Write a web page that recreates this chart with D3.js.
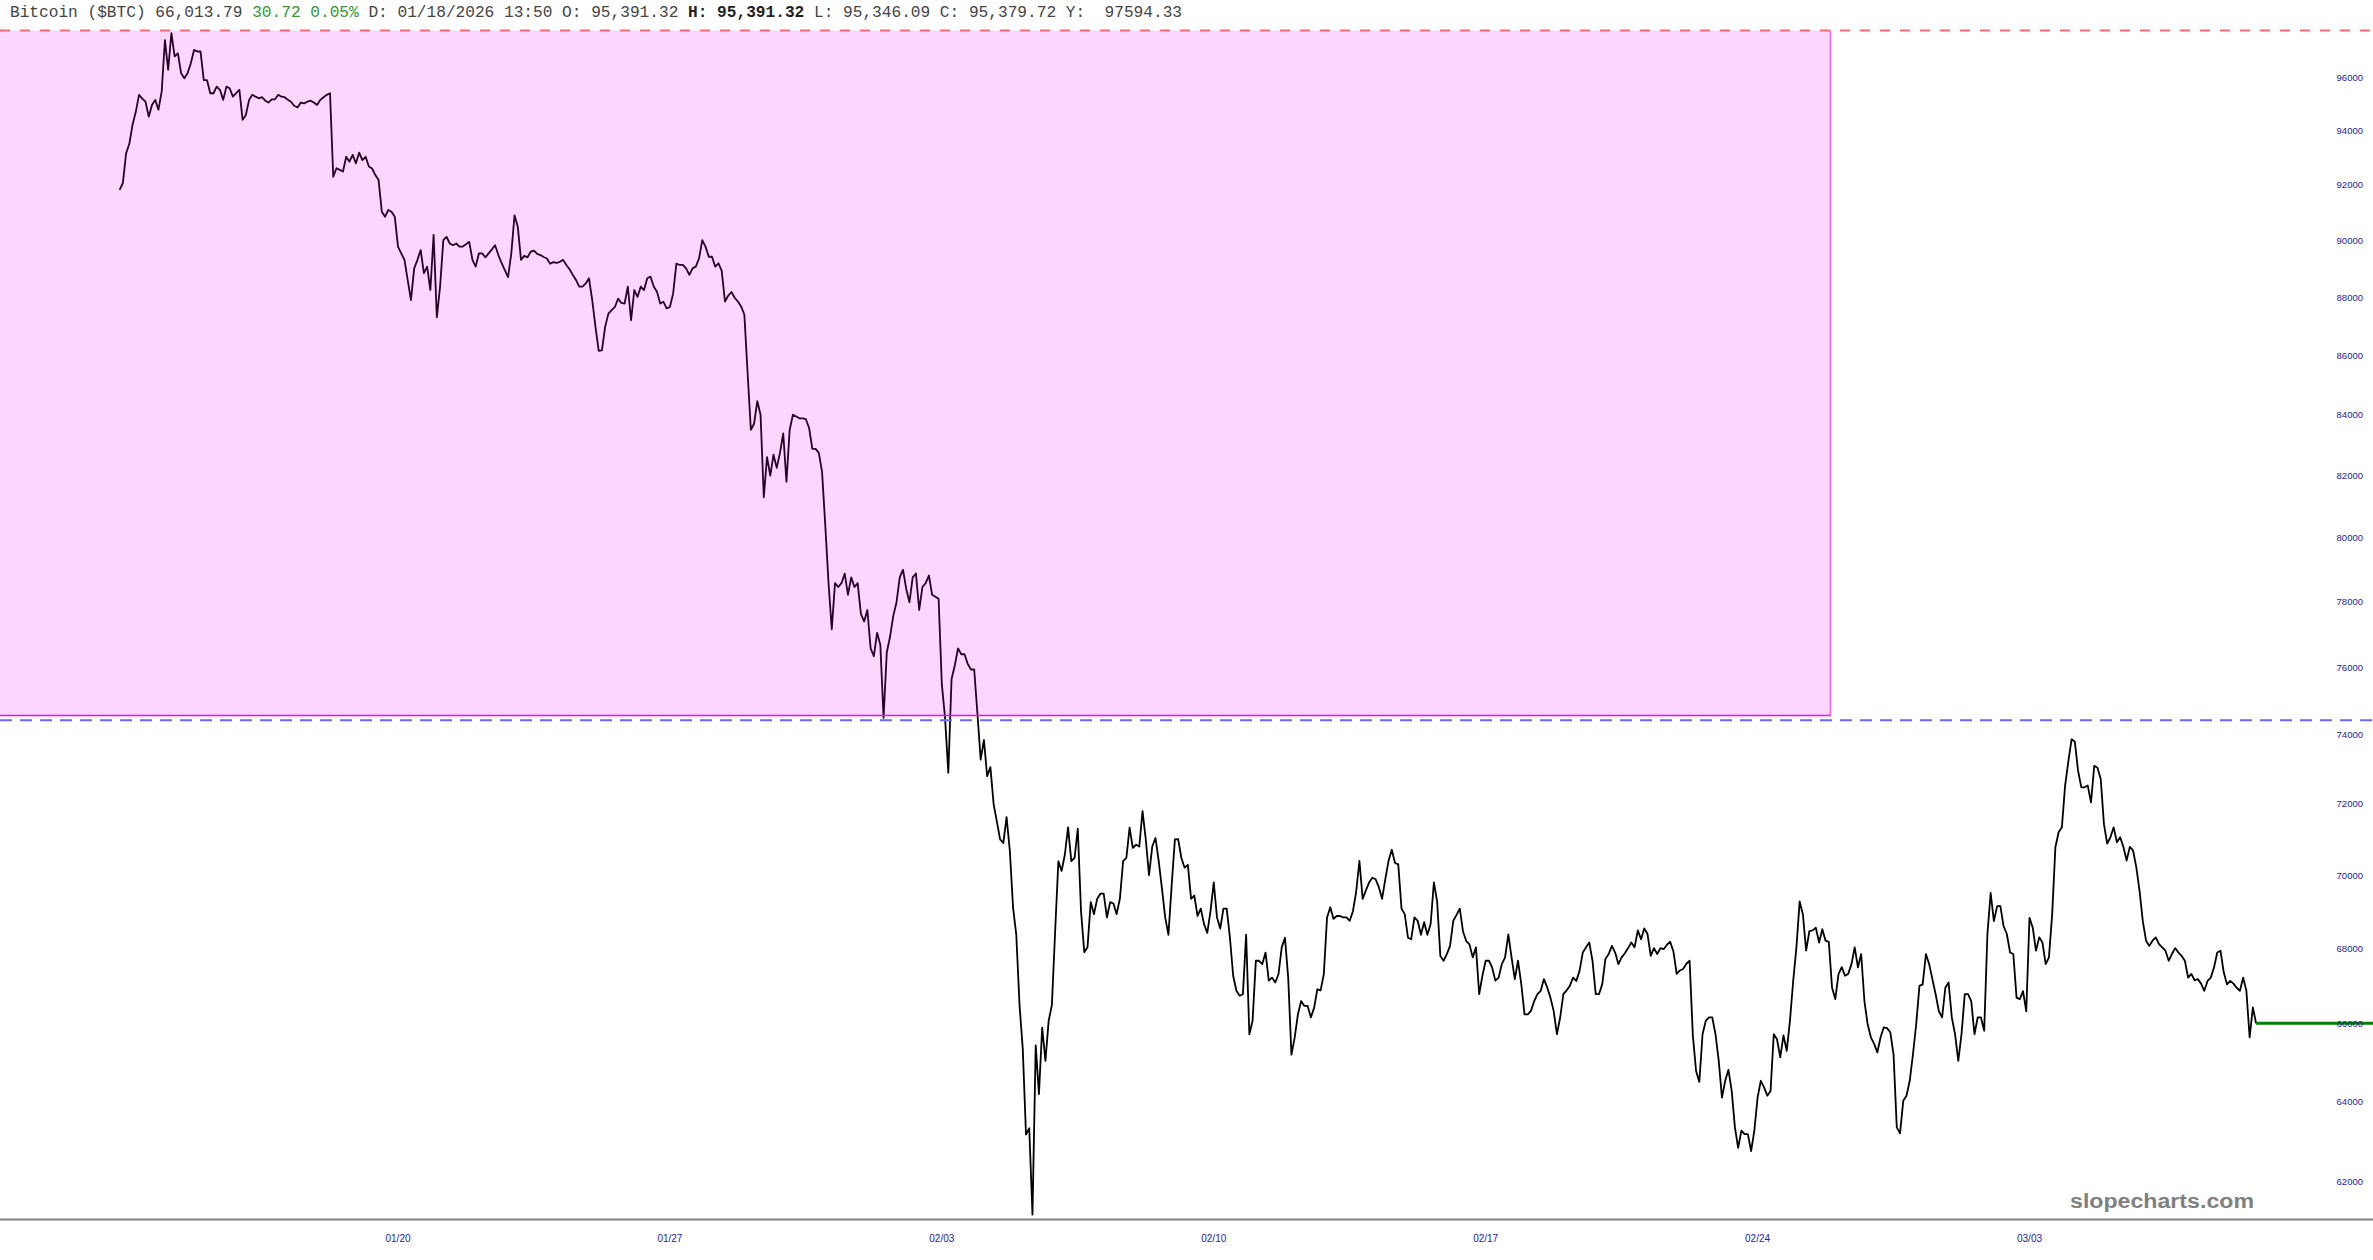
<!DOCTYPE html>
<html lang="en">
<head>
<meta charset="utf-8">
<style>
  body { margin: 0; background: #fff; }
  svg { display: block; }
  .hdr { font-family: "Liberation Mono", "DejaVu Sans Mono", monospace; font-size: 16.15px; fill: #444; white-space: pre; }
  .ylab { font-family: "Liberation Sans", Arial, sans-serif; font-size: 9.5px; fill: #23239a; }
  .xlab { font-family: "Liberation Sans", Arial, sans-serif; font-size: 10px; fill: #23239a; }
  .wm { font-family: "Liberation Sans", Arial, sans-serif; font-size: 20px; font-weight: bold; fill: #808080; }
</style>
</head>
<body>
<svg width="2373" height="1260"></svg>

<script src="https://d3js.org/d3.v7.min.js"></script>
<script>
// 2-hour closes
var startTime = "2026-01-12T20:00:00Z", stepHours = 2;
var closes = [
  91820, 92060, 93150, 93510, 94220, 94700, 95340, 95200, 95080, 94520,
  94960, 95150, 94780, 95460, 97430, 96290, 97700, 96800, 96920, 96160,
  95970, 96160, 96540, 97050, 96990, 96990, 95900, 95900, 95400, 95400,
  95650, 95530, 95150, 95650, 95590, 95270, 95400, 95530, 94400, 94580,
  95150, 95340, 95270, 95210, 95250, 95120, 95050, 95170, 95170, 95340,
  95270, 95250, 95150, 95070, 94920, 94870, 95050, 95020, 95080, 95120,
  95050, 94960, 95150, 95250, 95340, 95400, 92300, 92610, 92550, 92490,
  93030, 92850, 93100, 92790, 93180, 92910, 93030, 92670, 92600, 92360,
  92180, 91030, 90850, 91090, 91030, 90850, 89780, 89540, 89310, 88600,
  87900, 89010, 89310, 89660, 88840, 89070, 88250, 90200, 87300, 88370,
  90010, 90130, 89890, 89830, 89890, 89780, 89780, 89860, 89950, 89310,
  89070, 89540, 89540, 89400, 89540, 89680, 89830, 89480, 89200, 88950,
  88700, 89540, 90900, 90490, 89310, 89450, 89400, 89600, 89640, 89520,
  89480, 89410, 89360, 89170, 89230, 89200, 89240, 89310, 89130, 88980,
  88780, 88600, 88370, 88370, 88480, 88660, 87900, 86980, 86150, 86170,
  86980, 87430, 87550, 87660, 87950, 87800, 87780, 88370, 87200, 88250,
  88010, 88370, 88250, 88660, 88720, 88370, 88190, 87780, 87840, 87610,
  87660, 88130, 89180, 89130, 89130, 89010, 88780, 89010, 89070, 89360,
  90010, 89780, 89420, 89420, 89070, 89190, 88920, 87850, 88050, 88180,
  87980, 87850, 87680, 87390, 85400, 83500, 83700, 84450, 84000, 81300,
  82600, 82000, 82680, 82250, 82740, 83380, 81800, 83500, 84000, 83940,
  83880, 83880, 83850, 83560, 82870, 82870, 82740, 82120, 80390, 78580,
  77160, 78580, 78460, 78580, 78880, 78220, 78760, 78460, 78580, 77630,
  77400, 77750, 76580, 76340, 77050, 76690, 74500, 76460, 76930, 77570,
  77990, 78760, 79000, 78400, 77990, 78760, 78880, 77750, 78460, 78580,
  78820, 78220, 78160, 78100, 75500, 74500, 72900, 75650, 76060, 76580,
  76400, 76400, 76110, 75940, 75940, 74620, 73280, 73850, 72800, 73060,
  72000, 71500, 71000, 70900, 71630, 70690, 69110, 68370, 66500, 65350,
  63170, 63330, 61200, 65440, 64190, 65900, 65040, 66080, 66500, 68450,
  70390, 70120, 70570, 71340, 70390, 70480, 71300, 69010, 67900, 68030,
  69260, 68930, 69350, 69490, 69490, 68840, 69260, 69220, 68930, 69350,
  70390, 70480, 71330, 70760, 70850, 70800, 71800, 71000, 70000, 70800,
  71040, 70390, 69630, 68840, 68370, 69720, 71000, 71010, 70480, 70210,
  70290, 69350, 69440, 68880, 69080, 68660, 68420, 69010, 69800, 68840,
  68540, 69080, 69080, 68290, 67270, 66870, 66740, 66780, 68370, 65730,
  66080, 67670, 67670, 67580, 67890, 67140, 67220, 67090, 67310, 68030,
  68290, 67220, 65200, 65640, 66250, 66600, 66470, 66470, 66170, 66420,
  66910, 66880, 67310, 68840, 69120, 68800, 68880, 68880, 68840, 68840,
  68750, 69010, 69550, 70400, 69350, 69580, 69800, 69930, 69890, 69670,
  69350, 69890, 70400, 70710, 70340, 70300, 69080, 68930, 68290, 68250,
  68840, 68750, 68370, 68710, 68370, 68660, 69800, 69280, 67800, 67670,
  67850, 68070, 68750, 68910, 69080, 68460, 68200, 68110, 67760, 68030,
  66780, 67270, 67670, 67670, 67490, 67140, 67220, 67580, 67760, 68380,
  67760, 67180, 67670, 67050, 66250, 66250, 66340, 66600, 66780, 66870,
  67180, 66960, 66690, 66340, 65730, 66160, 66780, 66880, 67000, 67220,
  67130, 67400, 67890, 68030, 68160, 67670, 66780, 66780, 67040, 67720,
  67850, 68070, 67890, 67580, 67760, 67870, 68010, 68160, 68030, 68490,
  68250, 68540, 68390, 67800, 68010, 67850, 68010, 67980, 68100, 68180,
  67920, 67320, 67410, 67450, 67590, 67670, 65700, 64780, 64500, 65730,
  66080, 66170, 66170, 65730, 65040, 64100, 64530, 64810, 64270, 63350,
  62840, 63270, 63180, 63180, 62760, 63270, 64100, 64530, 64360, 64150,
  64270, 65730, 65600, 65130, 65700, 65300, 66080, 67130, 68030, 69280,
  68920, 67940, 68470, 68490, 68560, 68160, 68520, 68210, 68180, 66960,
  66650, 67310, 67500, 67270, 67320, 67580, 68030, 67490, 67850, 66600,
  65990, 65650, 65480, 65260, 65650, 65910, 65890, 65780, 65210, 63350,
  63200, 64020, 64150, 64530, 65210, 65990, 67000, 67040, 67850, 67580,
  67180, 66780, 66330, 66170, 66950, 67090, 66170, 65730, 65040, 65730,
  66780, 66780, 66600, 65730, 66170, 66170, 65820, 68390, 69510, 68740,
  69150, 69150, 68600, 68390, 67890, 67850, 66690, 66650, 66860, 66330,
  68830, 68560, 67940, 68300, 68160, 67580, 67760, 68920, 70780, 71200,
  71340, 72530, 73230, 73870, 73800, 72960, 72480, 72480, 72530, 72050,
  73100, 73040, 72720, 71430, 70880, 71060, 71340, 70920, 71060, 70790,
  70410, 70790, 70690, 70220, 69570, 68740, 68210, 68070, 68210, 68300,
  68120, 68030, 67940, 67670, 67850, 68010, 67890, 67800, 67670, 67220,
  67320, 67150, 67180, 67060, 66870, 67130, 67220, 67490, 67890, 67940,
  67360, 67040, 67130, 67060, 66950, 66870, 67220, 66870, 65650, 66430,
  66013.79
];
var lastPrice = 66013.79;

var yTicks = [62000, 64000, 66000, 68000, 70000, 72000, 74000, 76000, 78000,
              80000, 82000, 84000, 86000, 88000, 90000, 92000, 94000, 96000];
var xTickDates = ["2026-01-20", "2026-01-27", "2026-02-03", "2026-02-10",
                  "2026-02-17", "2026-02-24", "2026-03-03"];
var xTickLabels = ["01/20", "01/27", "02/03", "02/10", "02/17", "02/24", "03/03"];

var highLevel = 97800, lowLevel = 74430;       // dashed red / blue lines
var boxHigh = 97800, boxLow = 74570, boxEnd = "2026-02-25T21:00:00Z";

var header = [
  {t: "Bitcoin ($BTC) 66,013.79 ", c: "#444"},
  {t: "30.72 0.05%", c: "#2e9a2e"},
  {t: " D: 01/18/2026 13:50 O: 95,391.32 ", c: "#444"},
  {t: "H: 95,391.32", c: "#222", b: true},
  {t: " L: 95,346.09 C: 95,379.72 Y:  97594.33", c: "#444"}
];

var svg = d3.select("svg"),
    width = +svg.attr("width"),
    height = +svg.attr("height");

var x = d3.scaleUtc()
    .domain([new Date("2026-01-20T00:00:00Z"), new Date("2026-03-03T00:00:00Z")])
    .range([398, 2029.5]);
var y = d3.scaleLog()
    .domain([62000, 96000])
    .range([1181.8, 77.4]);

var t0 = new Date(startTime).getTime();
var data = closes.map(function (v, i) {
  return {t: new Date(t0 + i * stepHours * 3600e3), v: v};
});

// price line
var line = d3.line().x(function (d) { return x(d.t); }).y(function (d) { return y(d.v); });
svg.append("path")
    .datum(data)
    .attr("d", line)
    .attr("fill", "none")
    .attr("stroke", "#000")
    .attr("stroke-width", 1.8)
    .attr("stroke-linejoin", "round");

// pink range box laid over the line
var bx = x(new Date(boxEnd)), by0 = y(boxHigh), by1 = y(boxLow);
svg.append("rect")
    .attr("x", 0).attr("y", by0)
    .attr("width", bx).attr("height", by1 - by0)
    .attr("fill", "rgba(240,0,240,0.16)");
svg.append("line")
    .attr("x1", bx).attr("x2", bx).attr("y1", by0).attr("y2", by1)
    .attr("stroke", "#f064f0").attr("stroke-width", 1.5);
svg.append("line")
    .attr("x1", 0).attr("x2", bx).attr("y1", by1).attr("y2", by1)
    .attr("stroke", "#ff00ff").attr("stroke-width", 1.5);

// dashed levels
svg.append("line")
    .attr("x1", 0).attr("x2", width).attr("y1", y(highLevel)).attr("y2", y(highLevel))
    .attr("stroke", "#ff6a6a").attr("stroke-width", 2).attr("stroke-dasharray", "10,10");
svg.append("line")
    .attr("x1", 0).attr("x2", width).attr("y1", y(lowLevel)).attr("y2", y(lowLevel))
    .attr("stroke", "#6a6aff").attr("stroke-width", 2).attr("stroke-dasharray", "12,8");

// last price line
var last = data[data.length - 1];
svg.append("line")
    .attr("x1", x(last.t)).attr("x2", width)
    .attr("y1", y(lastPrice)).attr("y2", y(lastPrice))
    .attr("stroke", "#008000").attr("stroke-width", 3);

// y labels
svg.selectAll(".ylab")
    .data(yTicks)
    .enter().append("text")
    .attr("class", "ylab")
    .attr("x", 2363)
    .attr("y", function (d) { return y(d); })
    .attr("dy", "0.35em")
    .attr("text-anchor", "end")
    .text(function (d) { return d; });

// x axis line + labels
svg.append("line")
    .attr("x1", 0).attr("x2", width).attr("y1", 1219.5).attr("y2", 1219.5)
    .attr("stroke", "#808080").attr("stroke-width", 2);
svg.selectAll(".xlab")
    .data(xTickDates)
    .enter().append("text")
    .attr("class", "xlab")
    .attr("x", function (d) { return x(new Date(d + "T00:00:00Z")); })
    .attr("y", 1242)
    .attr("text-anchor", "middle")
    .text(function (d, i) { return xTickLabels[i]; });

// watermark
svg.append("text")
    .attr("class", "wm")
    .attr("x", 2254).attr("y", 1208)
    .attr("text-anchor", "end")
    .attr("textLength", 184)
    .attr("lengthAdjust", "spacingAndGlyphs")
    .text("slopecharts.com");

// header
var hdr = svg.append("text").attr("class", "hdr").attr("x", 10).attr("y", 17);
header.forEach(function (s) {
  hdr.append("tspan")
      .style("fill", s.c)
      .style("font-weight", s.b ? "bold" : "normal")
      .text(s.t);
});
</script>
</body>
</html>
